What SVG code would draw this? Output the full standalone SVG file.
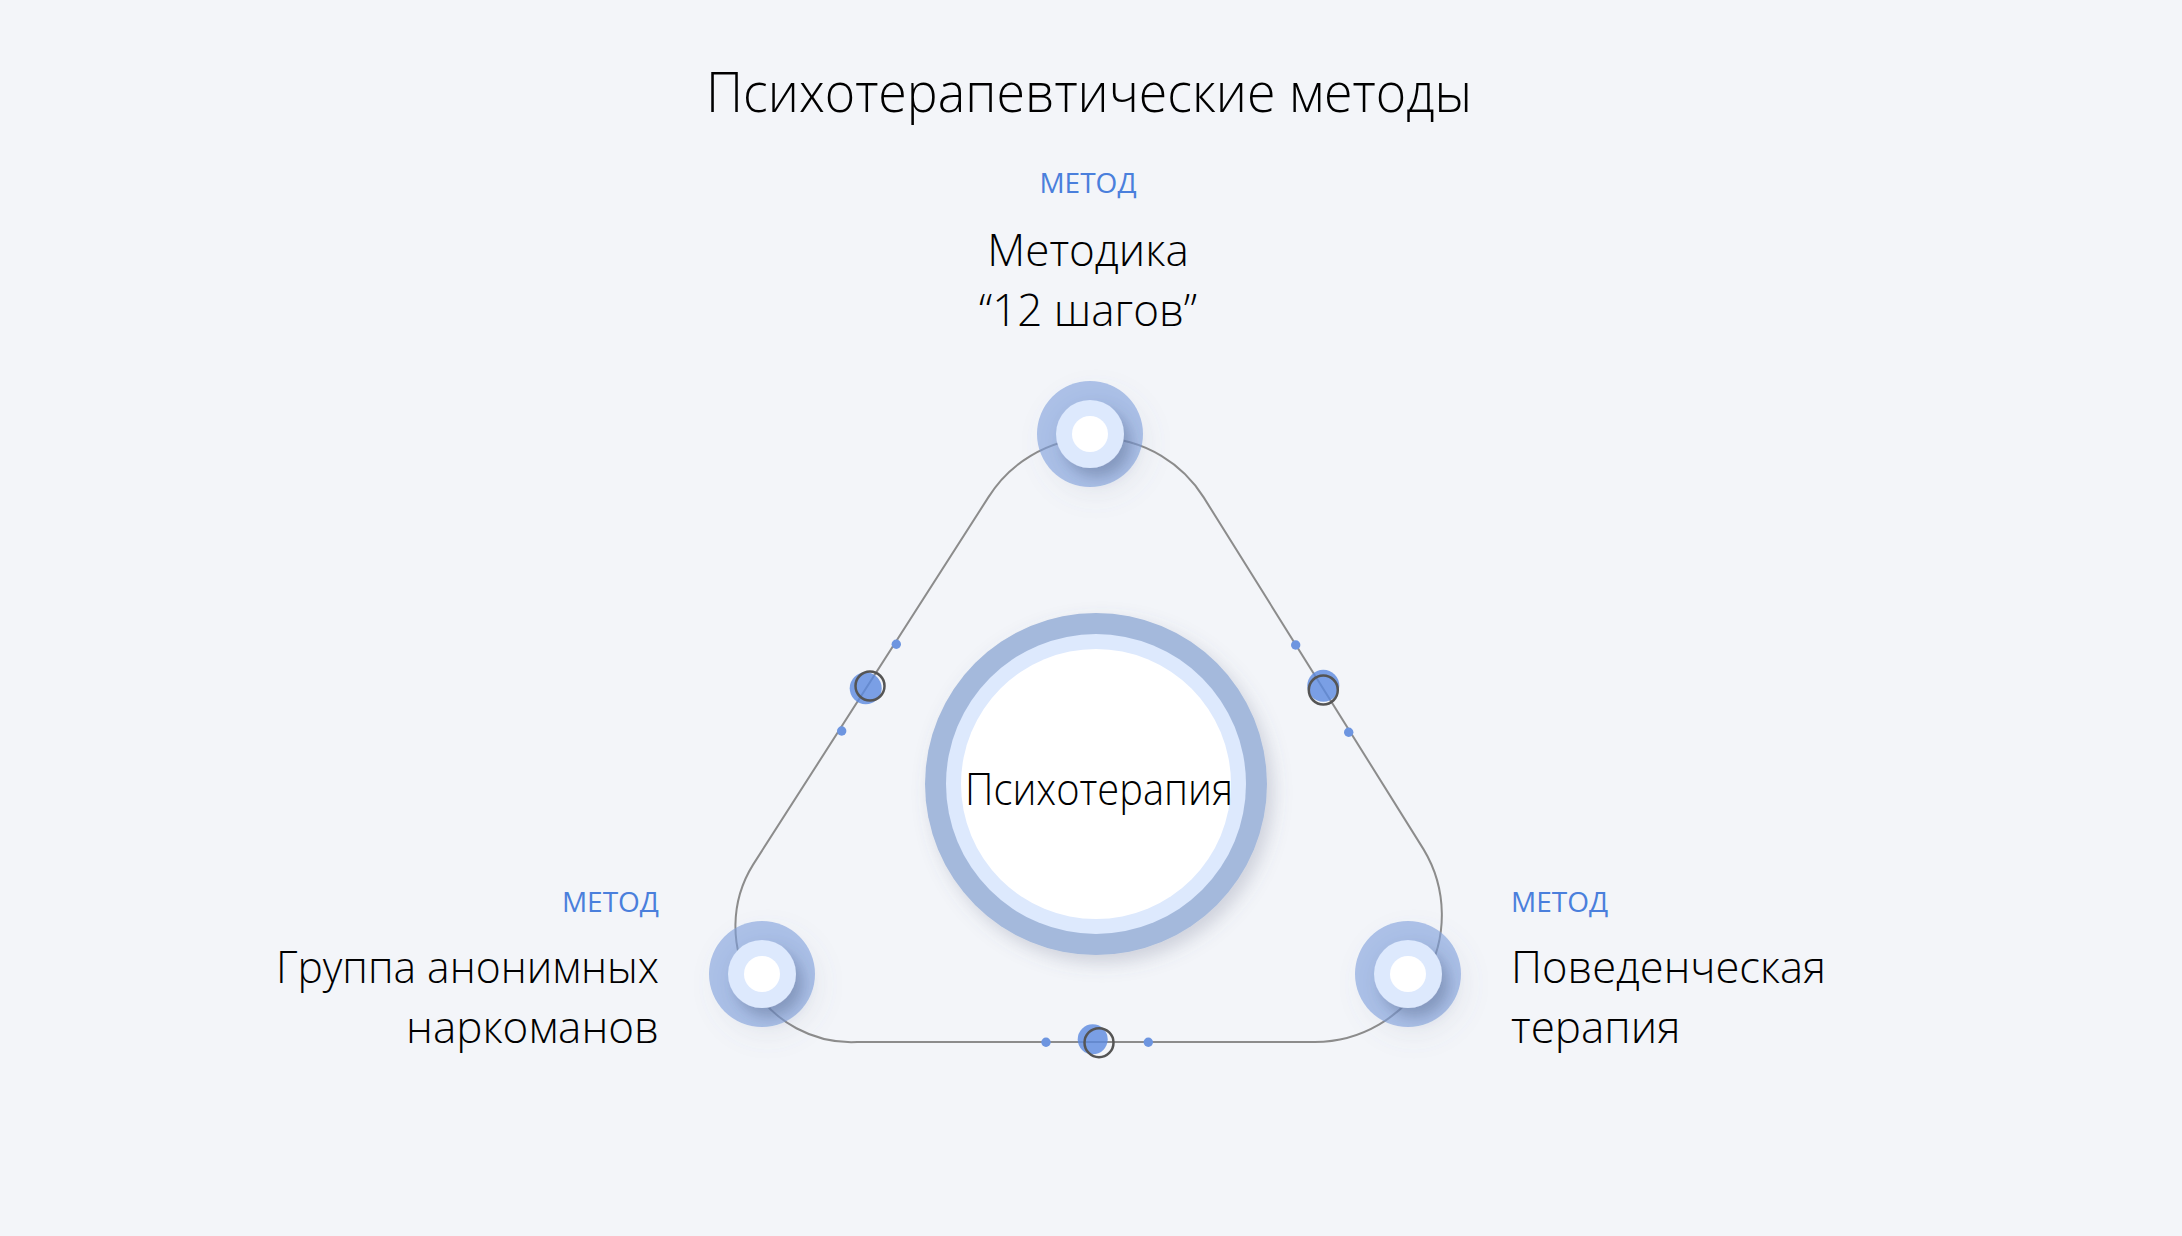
<svg xmlns="http://www.w3.org/2000/svg" width="2182" height="1236" viewBox="0 0 2182 1236">
<defs>
<style>
.t{font-family:"Open Sans","Noto Sans","DejaVu Sans",sans-serif;font-weight:300;fill:#000}
.tag{font-family:"Open Sans","Noto Sans","DejaVu Sans",sans-serif;font-weight:400;fill:#4a7fdc;font-size:28px}
.ring{fill:#7d9fdc;fill-opacity:0.6}
.mid{fill:#dde9fd}
.core{fill:#fff}
.edge{fill:none;stroke:#8c8c8c;stroke-width:2}
.bdot{fill:#5b8ae0;fill-opacity:0.8}
.sdot{fill:#6d95e0}
.hoop{fill:none;stroke:#555;stroke-width:2.5}
</style>
<filter id="sh" x="-50%" y="-50%" width="200%" height="200%">
<feDropShadow dx="7" dy="9" stdDeviation="7" flood-color="#44557a" flood-opacity="0.35"/>
</filter>
<filter id="sho" x="-50%" y="-50%" width="200%" height="200%">
<feDropShadow dx="6" dy="10" stdDeviation="12" flood-color="#6a7690" flood-opacity="0.15"/>
</filter>
<filter id="shc" x="-30%" y="-30%" width="160%" height="160%">
<feDropShadow dx="6" dy="8" stdDeviation="9" flood-color="#5a6580" flood-opacity="0.25"/>
</filter>
</defs>
<rect width="2182" height="1236" fill="#f3f5f9"/>
<text class="t" x="1089" y="112" font-size="56" text-anchor="middle" textLength="766" lengthAdjust="spacingAndGlyphs">Психотерапевтические методы</text>

<g id="connectors">
<path class="edge" d="M988.3,497.4 A127,127 0 0 1 1203.7,497.4 L1423.6,849.4 A127,127 0 0 1 1314.9,1042 L857.3,1042 A116,116 0 0 1 753.1,864.6 Z"/>
<circle class="sdot" cx="896.3" cy="644.3" r="4.7"/>
<circle class="sdot" cx="841.7" cy="731" r="4.7"/>
<circle class="bdot" cx="865.7" cy="688.3" r="16"/>
<circle class="hoop" cx="870" cy="686" r="14.5"/>
<circle class="sdot" cx="1295.7" cy="645" r="4.7"/>
<circle class="sdot" cx="1348.7" cy="732.3" r="4.7"/>
<circle class="bdot" cx="1323.3" cy="685.7" r="16"/>
<circle class="hoop" cx="1323.3" cy="690" r="14.5"/>
<circle class="sdot" cx="1046" cy="1042.3" r="4.7"/>
<circle class="sdot" cx="1148.3" cy="1042.3" r="4.7"/>
<circle class="bdot" cx="1092.7" cy="1039.3" r="15"/>
<circle class="hoop" cx="1099" cy="1042.7" r="14.5"/>
</g>

<g id="center">
<circle cx="1096" cy="784" r="171" fill="#a4b9dc" filter="url(#shc)"/>
<circle cx="1096" cy="784" r="150" fill="#dde9fd"/>
<circle cx="1096" cy="784" r="135" fill="#fff"/>
<text class="t" x="1099" y="805" font-size="44" text-anchor="middle" textLength="268" lengthAdjust="spacingAndGlyphs">Психотерапия</text>
</g>

<g id="node-top">
<circle class="ring" cx="1090" cy="434" r="53" filter="url(#sho)"/>
<circle class="mid" cx="1090" cy="434" r="34" filter="url(#sh)"/>
<circle class="core" cx="1090" cy="434" r="18"/>
<text class="tag" x="1088" y="193" text-anchor="middle">МЕТОД</text>
<text class="t" x="1088" y="266" font-size="44" text-anchor="middle">Методика</text>
<text class="t" x="1088" y="326" font-size="44" text-anchor="middle">“12 шагов”</text>
</g>

<g id="node-left">
<circle class="ring" cx="762" cy="974" r="53" filter="url(#sho)"/>
<circle class="mid" cx="762" cy="974" r="34" filter="url(#sh)"/>
<circle class="core" cx="762" cy="974" r="18"/>
<text class="tag" x="659" y="912" text-anchor="end">МЕТОД</text>
<text class="t" x="659" y="983" font-size="44" text-anchor="end" textLength="383" lengthAdjust="spacingAndGlyphs">Группа анонимных</text>
<text class="t" x="659" y="1043" font-size="44" text-anchor="end">наркоманов</text>
</g>

<g id="node-right">
<circle class="ring" cx="1408" cy="974" r="53" filter="url(#sho)"/>
<circle class="mid" cx="1408" cy="974" r="34" filter="url(#sh)"/>
<circle class="core" cx="1408" cy="974" r="18"/>
<text class="tag" x="1511" y="912">МЕТОД</text>
<text class="t" x="1511" y="983" font-size="44" textLength="315" lengthAdjust="spacingAndGlyphs">Поведенческая</text>
<text class="t" x="1511" y="1043" font-size="44">терапия</text>
</g>
</svg>
